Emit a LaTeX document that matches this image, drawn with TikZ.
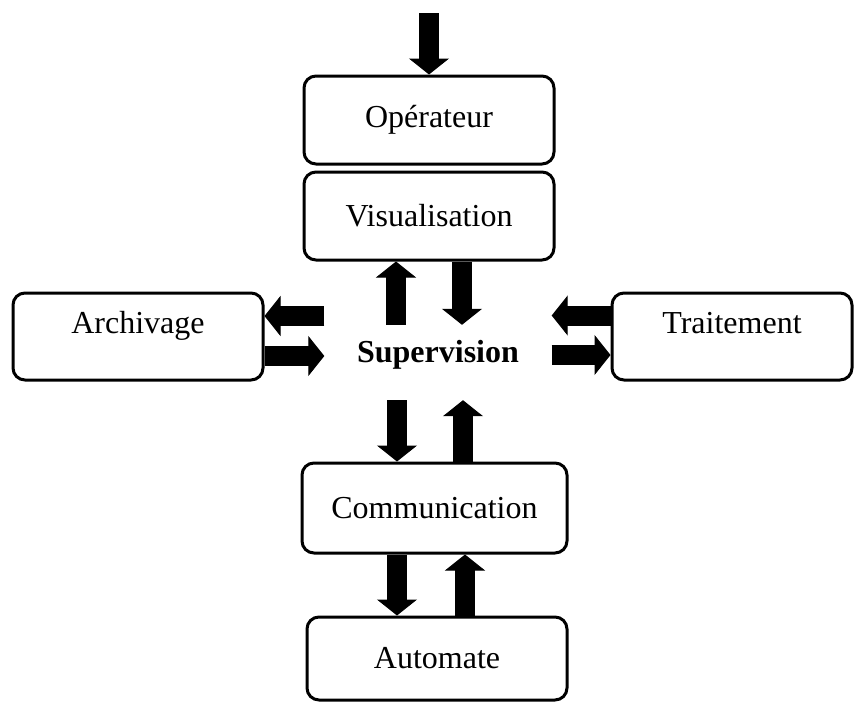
\documentclass[tikz,border=0pt]{standalone}
\usepackage{fontspec}
\setmainfont{Liberation Serif}
\usetikzlibrary{arrows.meta}
\tikzset{
  bloc/.style={draw, line width=3pt, rounded corners=12pt, inner sep=0pt},
  fleche/.style={line width=20pt, -{Triangle[width=40pt,length=16pt,line width=1pt]}}
}

\begin{document}
\begin{tikzpicture}[x=1pt,y=-1pt,font=\fontsize{32}{38}\selectfont]
  \useasboundingbox (0,0) rectangle (855,702);
  % blocs
  \node[bloc, minimum width=250pt, minimum height=88pt] (op) at (429,120) {Opérateur};
  \node[bloc, minimum width=250pt, minimum height=88pt] (vis) at (429,216) {Visualisation};
  \node[bloc, minimum width=250pt, minimum height=87pt,
        label={[yshift=11pt]center:Archivage}] (arch) at (138,336.5) {};
  \node[bloc, minimum width=240pt, minimum height=87pt,
        label={[yshift=13pt]center:Traitement}] (trait) at (732,336.5) {};
  \node[font=\fontsize{32}{38}\selectfont\bfseries, inner sep=0pt,
        minimum width=227pt, minimum height=75pt,
        text height=12pt, text depth=12pt] (sup) at (438,362.5) {Supervision};
  \node[bloc, minimum width=265pt, minimum height=90pt] (comm) at (434.5,508) {Communication};
  \node[bloc, minimum width=260pt, minimum height=83pt] (auto) at (437,658.5) {Automate};
  \coordinate (entree) at (429,13);
  % fleches
  \draw[fleche] (entree) -- (op.north);
  \draw[fleche] ([xshift=33pt]vis.south) -- ([xshift=24pt]sup.north);
  \draw[fleche] ([xshift=-42pt]sup.north) -- ([xshift=-33pt]vis.south);
  \draw[fleche] ([yshift=46.5pt]sup.west) -- ([yshift=20.5pt]arch.east);
  \draw[fleche] ([yshift=-19.5pt]arch.east) -- ([yshift=6.5pt]sup.west);
  \draw[fleche] ([yshift=21pt]trait.west) -- ([yshift=47pt]sup.east);
  \draw[fleche] ([yshift=7.5pt]sup.east) -- ([yshift=-18.5pt]trait.west);
  \draw[fleche] ([xshift=-41pt]sup.south) -- ([xshift=-37.5pt]comm.north);
  \draw[fleche] ([xshift=28.5pt]comm.north) -- ([xshift=25pt]sup.south);
  \draw[fleche] ([xshift=-37.5pt]comm.south) -- ([xshift=-40pt]auto.north);
  \draw[fleche] ([xshift=28pt]auto.north) -- ([xshift=30.5pt]comm.south);
\end{tikzpicture}
\end{document}
